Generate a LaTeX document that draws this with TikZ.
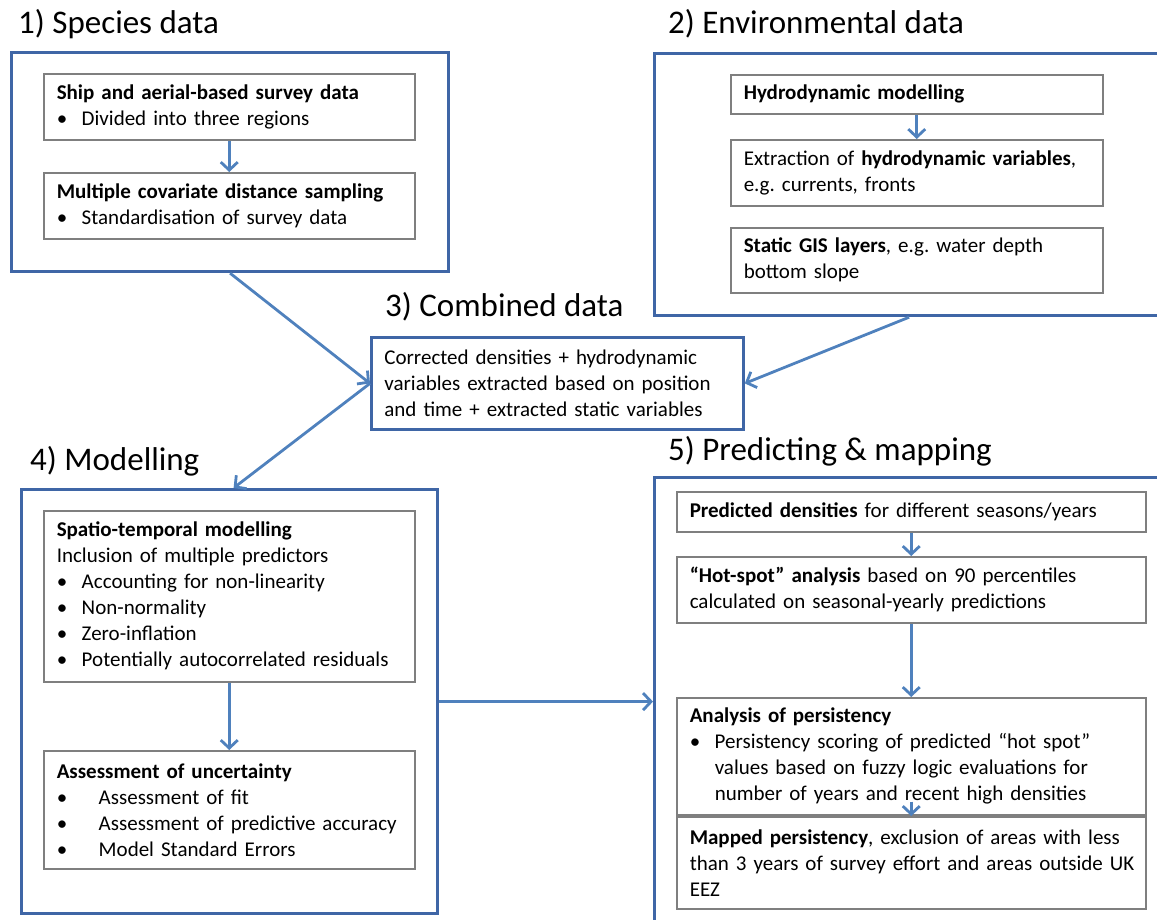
\documentclass[tikz,border=0pt]{standalone}
\usepackage{fontspec}
\setmainfont{Carlito}
\usetikzlibrary{arrows.meta}
\definecolor{outerblue}{HTML}{3F66A6}
\definecolor{arrowblue}{HTML}{4F81BD}
\definecolor{innergray}{HTML}{7F7F7F}
\newcommand\bodyfont{\fontsize{21}{26}\selectfont\frenchspacing}
\newcommand\titlefont{\fontsize{33}{38}\selectfont}
\newcommand\bul[1][25pt]{\makebox[#1][l]{•}}
\hfuzz=50pt
\begin{document}
\begin{tikzpicture}[x=1pt,y=-1pt,
  outerbox/.style={draw=outerblue, line width=3.2pt, anchor=north west, inner sep=0pt},
  innerbox/.style={draw=innergray, line width=1.5pt, fill=white, anchor=north west,
    inner xsep=13pt, inner ysep=0pt, align=left, font=\bodyfont},
  combbox/.style={draw=outerblue, line width=2.8pt, fill=white, anchor=north west,
    inner xsep=13pt, inner ysep=0pt, align=left, font=\bodyfont},
  title/.style={anchor=base west, inner sep=0pt, font=\titlefont},
  arr/.style={draw=arrowblue, line width=2.8pt, -{Straight Barb[length=8pt,width=17pt]}}]
\useasboundingbox (0,0) rectangle (1157,919);
\clip (0,0) rectangle (1157,919);

% titles
\node[title] (t1) at (18,33) {1) Species data};
\node[title] (t2) at (668,33) {2) Environmental data};
\node[title] (t3) at (385,316) {3) Combined data};
\node[title] (t4) at (30,470) {4) Modelling};
\node[title] (t5) at (668,460) {5) Predicting \& mapping};

% outer boxes
\node[outerbox, minimum width=437pt, minimum height=219pt] (b1) at (10,51) {};
\node[outerbox, minimum width=509pt, minimum height=262pt] (b2) at (653,52) {};
\node[outerbox, minimum width=416pt, minimum height=424pt] (b4) at (20,488) {};
\node[outerbox, minimum width=522pt, minimum height=470pt] (b5) at (653,476) {};

% species
\node[innerbox, text width=345pt, minimum height=66pt] (a1) at (43,73)
  {\textbf{Ship and aerial-based survey data}\\\bul Divided into three regions};
\node[innerbox, text width=345pt, minimum height=66pt] (a2) at (43,172)
  {\textbf{Multiple covariate distance sampling}\\\bul Standardisation of survey data};

% environmental
\node[innerbox, text width=346pt, minimum height=39pt] (e1) at (730,74)
  {\textbf{Hydrodynamic modelling}};
\node[innerbox, text width=346pt, minimum height=66pt] (e2) at (730,139)
  {Extraction of \textbf{hydrodynamic variables},\\e.g. currents, fronts};
\node[innerbox, text width=346pt, minimum height=65pt] (e3) at (730,227)
  {\textbf{Static GIS layers}, e.g. water depth\\bottom slope};

% combined
\node[combbox, text width=346pt, minimum height=92pt] (c3) at (370,336)
  {Corrected densities + hydrodynamic\\variables extracted based on position\\and time + extracted static variables};

% modelling
\node[innerbox, text width=345pt, minimum height=171pt] (m1) at (43,510)
  {\textbf{Spatio-temporal modelling}\\Inclusion of multiple predictors\\
   \bul Accounting for non-linearity\\\bul Non-normality\\\bul Zero-inflation\\
   \bul Potentially autocorrelated residuals};
\node[innerbox, text width=345pt, minimum height=118pt] (m2) at (43,750)
  {\textbf{Assessment of uncertainty}\\\bul[42pt]Assessment of fit\\
   \bul[42pt]Assessment of predictive accuracy\\\bul[42pt]Model Standard Errors};

% predicting
\node[innerbox, text width=443pt, minimum height=40pt] (p1) at (676,491)
  {\textbf{Predicted densities} for different seasons/years};
\node[innerbox, text width=443pt, minimum height=66pt] (p2) at (676,556)
  {\textbf{“Hot-spot” analysis} based on 90 percentiles\\calculated on seasonal-yearly predictions};
\node[innerbox, text width=443pt, minimum height=117pt] (p3) at (676,697)
  {\textbf{Analysis of persistency}\\\bul Persistency scoring of predicted “hot spot”\\
   \hspace*{25pt}values based on fuzzy logic evaluations for\\
   \hspace*{25pt}number of years and recent high densities};
\node[innerbox, text width=443pt, minimum height=92pt] (p4) at (676,816)
  {\mbox{\textbf{Mapped persistency}, exclusion of areas with less}\\\mbox{than 3 years of survey effort and areas outside UK}\\EEZ};

% connectors
\draw[arr] (a1.south) -- (a2.north);
\draw[arr] (e1.south) -- (e2.north);
\draw[arr] (m1.south) -- (m2.north);
\draw[arr] (p1.south) -- (p2.north);
\draw[arr] (p2.south) -- (p3.north);
\draw[arr] ([yshift=14pt]p3.south) -- (p4.north);
\draw[arr] (b1.south) -- (c3.west);
\draw[arr] (b2.south) -- (c3.east);
\draw[arr] (c3.west) -- ([xshift=4pt]b4.north);
\draw[arr] (b4.east) -- (b5.west |- b4.east);
\end{tikzpicture}
\end{document}
